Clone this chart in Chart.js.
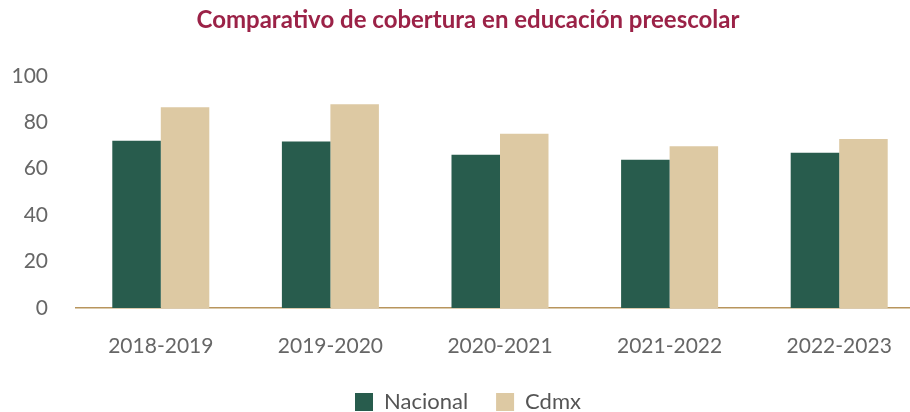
<!DOCTYPE html>
<html>
<head>
<meta charset="utf-8">
<script src="https://cdn.jsdelivr.net/npm/chart.js@4"></script>
<style>
  html, body { margin: 0; padding: 0; background: #fff; overflow: hidden; }
  #wrap { width: 936px; height: 412px; }
</style>
</head>
<body>
<div id="wrap"><canvas id="coberturaChart"></canvas></div>
<script>
// --- datos ---
const ciclos = ["2018-2019", "2019-2020", "2020-2021", "2021-2022", "2022-2023"];
const nacional = [72, 71.7, 66, 63.8, 66.9];
const cdmx = [86.5, 87.8, 75, 69.7, 72.8];
const yTicks = [0, 20, 40, 60, 80, 100];

document.addEventListener("DOMContentLoaded", function () {
  initCoberturaChart();
});

// keep legend close to the bottom edge while items stay spaced apart
const legendHeight = {
  id: "legendHeight",
  beforeInit: function (chart) {
    const origFit = chart.legend.fit;
    chart.legend.fit = function () {
      origFit.bind(chart.legend)();
      this.height = 49;
    };
  },
};

function initCoberturaChart() {
  const ctx = document.getElementById("coberturaChart").getContext("2d");
  Chart.defaults.font.family = "Lato, 'Open Sans', sans-serif";

  new Chart(ctx, {
    type: "bar",
    data: {
      labels: ciclos,
      datasets: [
        { label: "Nacional", data: nacional, backgroundColor: "#285c4d" },
        { label: "Cdmx", data: cdmx, backgroundColor: "#ddc9a3" },
      ],
    },
    plugins: [legendHeight],
    options: {
      responsive: true,
      maintainAspectRatio: false,
      animation: false,
      layout: { padding: { left: 12, right: 12, top: 0, bottom: 0 } },
      datasets: { bar: { categoryPercentage: 0.572, barPercentage: 1, borderWidth: 0 } },
      plugins: {
        title: {
          display: true,
          text: "Comparativo de cobertura en educación preescolar",
          color: "#9b2247",
          font: { size: 24, weight: "bold" },
          padding: { top: 6, bottom: 41 },
        },
        legend: {
          position: "bottom",
          labels: {
            color: "#555",
            font: { size: 22 },
            boxWidth: 18,
            boxHeight: 18,
            padding: 28,
          },
        },
        tooltip: { enabled: false },
      },
      scales: {
        x: {
          afterFit: function (scale) { scale.height = 55; },
          grid: { display: false },
          border: { display: true, color: "#b8955d", width: 1.5 },
          ticks: { color: "#666", font: { size: 21 }, padding: 18 },
        },
        y: {
          min: 0,
          max: 100,
          afterFit: function (scale) { scale.width = 64; },
          afterBuildTicks: function (scale) {
            scale.ticks = yTicks.map(function (v) { return { value: v }; });
          },
          grid: { display: false, drawTicks: false },
          border: { display: false },
          ticks: { color: "#666", font: { size: 21 }, padding: 28 },
        },
      },
    },
  });
}
</script>
</body>
</html>
